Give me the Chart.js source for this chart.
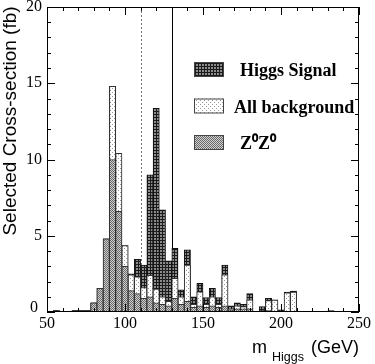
<!DOCTYPE html>
<html>
<head>
<meta charset="utf-8">
<script src="https://cdn.jsdelivr.net/npm/chart.js@4.4.1/dist/chart.umd.min.js"></script>
<style>
  html, body { margin: 0; padding: 0; background: #fff; }
  #wrap { width: 375px; height: 364px; }
</style>
</head>
<body>
<div id="wrap"><canvas id="higgsChart" width="375" height="364"></canvas></div>
<script>
// bin centres of the 4 GeV mass bins (GeV)
var massBins = [52, 56, 60, 64, 68, 72, 76, 80, 84, 88,
                92, 96, 100, 104, 108, 112, 116, 120, 124, 128,
                132, 136, 140, 144, 148, 152, 156, 160, 164, 168,
                172, 176, 180, 184, 188, 192, 196, 200, 204, 208,
                212, 216, 220, 224, 228, 232, 236, 240, 244, 248];

// Higgs signal stacked on the background (fb)
var higgsSignal = [0, 0.1, 0, 0, 0.1, 0.1, 0.1, 0.6, 1.55, 4.8,
                   14.8, 10.4, 4.35, 2.5, 3.45, 3.08, 9.0, 13.35, 6.7, 3.35,
                   4.17, 1.45, 4.07, 1.0, 1.88, 0.95, 1.55, 0.95, 3.08, 0.4,
                   0.6, 0.5, 1.2, 0.02, 0.35, 0.9, 0.8, 0.15, 1.3, 1.37,
                   0, 0, 0, 0, 0, 0.1, 0, 0, 0, 0];

// all background (fb)
var allBackground = [0, 0.1, 0, 0, 0.1, 0.1, 0.1, 0.6, 1.55, 4.8,
                     14.8, 10.4, 4.35, 2.43, 2.3, 1.6, 2.4, 1.5, 1.0, 0.7,
                     2.2, 1.0, 3.08, 0.5, 1.33, 0.5, 1.0, 0.5, 2.43, 0.2,
                     0.4, 0.35, 0.8, 0, 0.1, 0.75, 0.78, 0.05, 1.25, 1.3,
                     0, 0, 0, 0, 0, 0, 0, 0, 0, 0];

// Z0Z0 background (fb)
var zzBackground = [0, 0.1, 0, 0, 0.1, 0.1, 0.1, 0.6, 1.55, 4.8,
                    10.0, 6.6, 3.0, 1.4, 1.2, 0.9, 1.0, 0.6, 0.5, 0.4,
                    0.9, 0.5, 0.7, 0.3, 0.4, 0.3, 0.4, 0.3, 0.4, 0.15,
                    0.2, 0.2, 0.2, 0, 0.05, 0.1, 0.05, 0, 0.05, 0.05,
                    0, 0, 0, 0, 0, 0, 0, 0, 0, 0];

var seriesNames = ["Higgs Signal", "All background", "Z\u2070Z\u2070"];
var xTickLabels = [50, 100, 150, 200, 250];
var yTickLabels = [0, 5, 10, 15, 20];
var cutLines = [110, 130];

var ctx = document.getElementById("higgsChart").getContext("2d");

function makePattern(size, paint) {
    var c = document.createElement("canvas");
    c.width = size; c.height = size;
    paint(c.getContext("2d"));
    return ctx.createPattern(c, "repeat");
}

// dark cross-hatch
var higgsFill = makePattern(3, function (g) {
    g.fillStyle = "#8c8c8c"; g.fillRect(0, 0, 3, 3);
    g.fillStyle = "#1a1a1a"; g.fillRect(0, 0, 3, 1); g.fillRect(0, 0, 1, 3);
});
// light dots
var bgFill = makePattern(4, function (g) {
    g.fillStyle = "#fff"; g.fillRect(0, 0, 4, 4);
    g.fillStyle = "#999"; g.fillRect(0, 0, 1, 1); g.fillRect(2, 2, 1, 1);
});
// medium dots
var zzFill = makePattern(2, function (g) {
    g.fillStyle = "#d0d0d0"; g.fillRect(0, 0, 2, 2);
    g.fillStyle = "#6a6a6a"; g.fillRect(0, 0, 1, 1); g.fillRect(1, 1, 1, 1);
});

function toPoints(values) {
    return values.map(function (v, i) { return { x: massBins[i], y: v }; });
}

var decorations = {
    id: "decorations",
    beforeDatasetsDraw: function (chart) {
        var c = chart.ctx, a = chart.chartArea, xs = chart.scales.x;
        c.save();
        cutLines.forEach(function (m, i) {
            var px = Math.round(xs.getPixelForValue(m)) + 0.5;
            c.beginPath();
            c.strokeStyle = i === 0 ? "#777" : "#000";
            c.setLineDash(i === 0 ? [2, 2] : []);
            c.lineWidth = 1;
            c.moveTo(px, a.top); c.lineTo(px, a.bottom);
            c.stroke();
        });
        c.restore();
    },
    afterDraw: function (chart) {
        var c = chart.ctx, a = chart.chartArea, xs = chart.scales.x, ys = chart.scales.y;
        c.save();
        c.strokeStyle = "#000";
        c.lineWidth = 1;
        c.strokeRect(a.left + 0.5, a.top + 0.5, a.right - a.left - 1, a.bottom - a.top - 1);

        // inward ticks on all four sides
        c.beginPath();
        for (var m = 50; m <= 250; m += 10) {
            var px = Math.round(xs.getPixelForValue(m)) + 0.5;
            var len = m % 50 === 0 ? 8 : 4;
            c.moveTo(px, a.bottom); c.lineTo(px, a.bottom - len);
            c.moveTo(px, a.top); c.lineTo(px, a.top + len);
        }
        for (var v = 0; v <= 20; v += 1) {
            var py = Math.round(ys.getPixelForValue(v)) + 0.5;
            var l2 = v % 5 === 0 ? 8 : 4;
            c.moveTo(a.left, py); c.lineTo(a.left + l2, py);
            c.moveTo(a.right, py); c.lineTo(a.right - l2, py);
        }
        c.stroke();

        // tick labels
        c.fillStyle = "#000";
        c.font = "16px 'Liberation Serif', 'Times New Roman', serif";
        c.textAlign = "center"; c.textBaseline = "alphabetic";
        xTickLabels.forEach(function (t) {
            c.fillText(String(t), xs.getPixelForValue(t), a.bottom + 16);
        });
        c.textAlign = "right"; c.textBaseline = "middle";
        yTickLabels.forEach(function (t) {
            var py = ys.getPixelForValue(t);
            if (t === 0) py -= 4;
            c.fillText(String(t), t === 0 ? a.left - 9 : a.left - 5, py);
        });

        // axis titles
        c.font = "18px 'Liberation Sans', Arial, sans-serif";
        c.textAlign = "left"; c.textBaseline = "alphabetic";
        c.fillText("m", 252, 353);
        c.font = "12.5px 'Liberation Sans', Arial, sans-serif";
        c.fillText("Higgs", 272, 361);
        c.font = "18px 'Liberation Sans', Arial, sans-serif";
        c.fillText("(GeV)", 311, 353);

        c.save();
        c.translate(16, 121);
        c.rotate(-Math.PI / 2);
        c.font = "19px 'Liberation Sans', Arial, sans-serif";
        c.textAlign = "center";
        c.fillText("Selected Cross-section (fb)", 0, 0);
        c.restore();

        // legend inside the frame, Higgs first
        var rows = [2, 1, 0];
        c.font = "bold 18px 'Liberation Serif', 'Times New Roman', serif";
        c.textAlign = "left";
        rows.forEach(function (di, r) {
            var ds = chart.data.datasets[di];
            var by = 62 + r * 36.5;
            c.fillStyle = ds.backgroundColor;
            c.fillRect(194, by, 30, 15);
            c.strokeStyle = "#444";
            c.strokeRect(194.5, by + 0.5, 29, 14);
            c.fillStyle = "#000";
            c.fillText(ds.label, di === 1 ? 234 : 240, by + 14);
        });
        c.restore();
    }
};

new Chart(ctx, {
    type: "bar",
    data: {
        datasets: [
            { label: seriesNames[2], data: toPoints(zzBackground), backgroundColor: zzFill, borderColor: "#333", borderWidth: 1 },
            { label: seriesNames[1], data: toPoints(allBackground), backgroundColor: bgFill, borderColor: "#333", borderWidth: 1 },
            { label: seriesNames[0], data: toPoints(higgsSignal), backgroundColor: higgsFill, borderColor: "#111", borderWidth: 1 }
        ]
    },
    options: {
        responsive: false,
        animation: false,
        layout: { padding: { left: 47, right: 16, top: 7, bottom: 52 } },
        datasets: { bar: { grouped: false, barPercentage: 1, categoryPercentage: 1, borderSkipped: "start" } },
        plugins: { legend: { display: false }, tooltip: { enabled: false } },
        scales: {
            x: { type: "linear", min: 50, max: 250, offset: false, display: false },
            y: { type: "linear", min: 0, max: 20, display: false }
        }
    },
    plugins: [decorations]
});
</script>
</body>
</html>
